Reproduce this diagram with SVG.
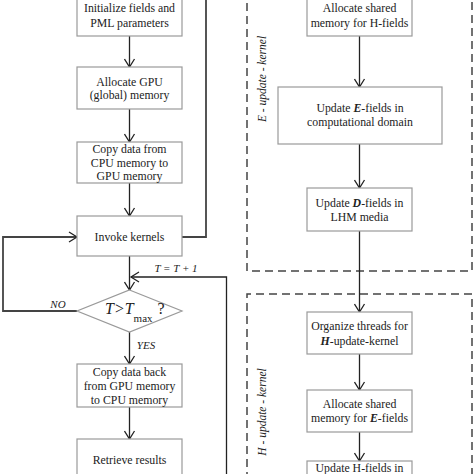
<svg xmlns="http://www.w3.org/2000/svg" width="474" height="474" viewBox="0 0 474 474">
<defs>
<marker id="ah" markerWidth="12" markerHeight="12" refX="10" refY="6" orient="auto" markerUnits="userSpaceOnUse">
<path d="M2,1 L10,6 L2,11" fill="none" stroke="#222" stroke-width="1.3"/>
</marker>
<style>
.box{fill:#fff;stroke:#9a9a9a;stroke-width:1.2}
.t{font-family:"Liberation Serif","Times New Roman",serif;font-size:11.8px;fill:#222;text-anchor:middle}
.it{font-family:"Liberation Serif","Times New Roman",serif;font-style:italic;fill:#222}
.bi{font-weight:bold;font-style:italic}
.ar{fill:none;stroke:#222;stroke-width:1.3}
.loop{fill:none;stroke:#444;stroke-width:1.8}
.dash{fill:none;stroke:#444;stroke-width:1.5;stroke-dasharray:8 5}
</style>
</defs>
<rect width="474" height="474" fill="#fff"/>

<g id="kernel-regions">
<path class="dash" d="M247,-10 V271 H472 V-10"/>
<path class="dash" d="M247,480 V294 H472 V480"/>
<text class="it" font-size="11.5" text-anchor="middle" transform="translate(266,79) rotate(-90)">E - update - kernel</text>
<text class="it" font-size="11.5" text-anchor="middle" transform="translate(266,412) rotate(-90)">H - update - kernel</text>
</g>

<g id="connectors">
<line class="ar" x1="129.5" y1="36" x2="129.5" y2="67" marker-end="url(#ah)"/>
<line class="ar" x1="129.5" y1="109" x2="129.5" y2="142" marker-end="url(#ah)"/>
<line class="ar" x1="129.5" y1="183" x2="129.5" y2="216" marker-end="url(#ah)"/>
<line class="ar" x1="129.5" y1="256" x2="129.5" y2="290" marker-end="url(#ah)"/>
<polyline class="loop" points="182,237 206,237 206,-5"/>
<polyline class="loop" points="77,311 3,311 3,237 77,237" marker-end="url(#ah)"/>
<polyline class="ar" points="226.5,480 226.5,277 131,277" marker-end="url(#ah)"/>
<line class="ar" x1="129.5" y1="332" x2="129.5" y2="364" marker-end="url(#ah)"/>
<line class="ar" x1="129.5" y1="407" x2="129.5" y2="439" marker-end="url(#ah)"/>
<line class="ar" x1="359.5" y1="36" x2="359.5" y2="87" marker-end="url(#ah)"/>
<line class="ar" x1="359.5" y1="144" x2="359.5" y2="188" marker-end="url(#ah)"/>
<line class="ar" x1="359.5" y1="231" x2="359.5" y2="312" marker-end="url(#ah)"/>
<line class="ar" x1="359.5" y1="354" x2="359.5" y2="390" marker-end="url(#ah)"/>
<line class="ar" x1="359.5" y1="432" x2="359.5" y2="461" marker-end="url(#ah)"/>
<text class="it" font-size="11" x="176" y="272" text-anchor="middle">T = T + 1</text>
<text class="it" font-size="11" x="58" y="308" text-anchor="middle">NO</text>
<text class="it" font-size="11" x="146" y="349" text-anchor="middle">YES</text>
</g>

<g id="init">
<rect class="box" x="77" y="-8" width="105" height="44"/>
<text class="t" x="129.5" y="12">Initialize fields and</text>
<text class="t" x="129.5" y="27">PML parameters</text>
</g>
<g id="alloc-gpu">
<rect class="box" x="77" y="67" width="105" height="42"/>
<text class="t" x="129.5" y="86">Allocate GPU</text>
<text class="t" x="129.5" y="99">(global) memory</text>
</g>
<g id="copy-to-gpu">
<rect class="box" x="77" y="142" width="105" height="41"/>
<text class="t" x="129.5" y="153">Copy data from</text>
<text class="t" x="129.5" y="167">CPU memory to</text>
<text class="t" x="129.5" y="180">GPU memory</text>
</g>
<g id="invoke">
<rect class="box" x="77" y="216" width="105" height="40"/>
<text class="t" x="129.5" y="241">Invoke kernels</text>
</g>
<g id="decision">
<polygon class="box" points="129.5,290 182,311 129.5,332 77,311"/>
<text font-family="Liberation Serif, serif" fill="#222" x="105" y="314"><tspan font-style="italic" font-size="16">T&gt;T</tspan><tspan font-size="11" dy="8">max</tspan><tspan font-size="16" dy="-8" dx="5">?</tspan></text>
</g>
<g id="copy-back">
<rect class="box" x="77" y="364" width="105" height="43"/>
<text class="t" x="129.5" y="376">Copy data back</text>
<text class="t" x="129.5" y="390">from GPU memory</text>
<text class="t" x="129.5" y="404">to CPU memory</text>
</g>
<g id="retrieve">
<rect class="box" x="77" y="439" width="105" height="42"/>
<text class="t" x="129.5" y="464">Retrieve results</text>
</g>

<g id="alloc-shared-h">
<rect class="box" x="307" y="-8" width="105" height="44"/>
<text class="t" x="359.5" y="12">Allocate shared</text>
<text class="t" x="359.5" y="27">memory for H-fields</text>
</g>
<g id="update-e">
<rect class="box" x="278" y="87" width="164" height="57"/>
<text class="t" x="360" y="112">Update <tspan class="bi">E</tspan>-fields in</text>
<text class="t" x="360" y="126">computational domain</text>
</g>
<g id="update-d">
<rect class="box" x="307" y="188" width="105" height="43"/>
<text class="t" x="359.5" y="207">Update <tspan class="bi">D</tspan>-fields in</text>
<text class="t" x="359.5" y="221">LHM media</text>
</g>
<g id="organize">
<rect class="box" x="307" y="312" width="105" height="42"/>
<text class="t" x="359.5" y="330">Organize threads for</text>
<text class="t" x="359.5" y="345"><tspan class="bi">H</tspan>-update-kernel</text>
</g>
<g id="alloc-shared-e">
<rect class="box" x="307" y="390" width="105" height="42"/>
<text class="t" x="359.5" y="408">Allocate shared</text>
<text class="t" x="359.5" y="422">memory for <tspan class="bi">E</tspan>-fields</text>
</g>
<g id="update-h">
<rect class="box" x="307" y="461" width="105" height="30"/>
<text class="t" x="359.5" y="472">Update H-fields in</text>
</g>
</svg>
